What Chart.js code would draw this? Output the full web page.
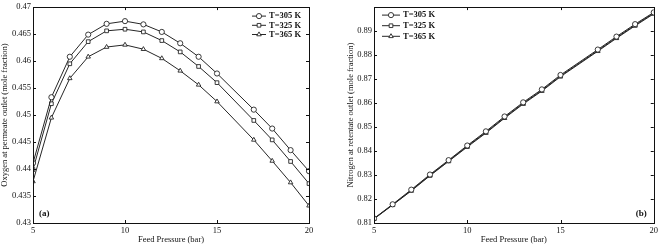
<!DOCTYPE html>
<html>
<head>
<meta charset="utf-8">
<script src="https://cdn.jsdelivr.net/npm/chart.js@4.4.0/dist/chart.umd.min.js"></script>
<style>
  body { margin: 0; background: #fff; }
  .box { position: absolute; top: 0; height: 245px; }
</style>
</head>
<body>
<div class="box" style="left:0;width:322px"><canvas id="chartA"></canvas></div>
<div class="box" style="left:330px;width:331px"><canvas id="chartB"></canvas></div>
<script>
// feed pressure (bar) - no marker at 16 in the figure
var pressure = [5, 6, 7, 8, 9, 10, 11, 12, 13, 14, 15, 17, 18, 19, 20];
var seriesNames = ['T=305 K', 'T=325 K', 'T=365 K'];
var markers = ['circle', 'rect', 'triangle'];

// (a) oxygen at permeate outlet
var o2_305 = [0.4411, 0.4533, 0.4608, 0.4649, 0.4669, 0.4674, 0.4668, 0.4654, 0.4633, 0.4608, 0.4577, 0.4510, 0.4475, 0.4435, 0.4396];
var o2_325 = [0.4399, 0.4521, 0.4595, 0.4636, 0.4656, 0.4659, 0.4654, 0.4638, 0.4617, 0.4590, 0.4560, 0.4490, 0.4454, 0.4414, 0.4373];
var o2_365 = [0.4377, 0.4495, 0.4568, 0.4608, 0.4626, 0.4630, 0.4622, 0.4605, 0.4582, 0.4556, 0.4525, 0.4454, 0.4415, 0.4375, 0.4332];

// (b) nitrogen at retentate outlet
var n2_305 = [0.8119, 0.8178, 0.8239, 0.8302, 0.8362, 0.8423, 0.8482, 0.8544, 0.8603, 0.8657, 0.8717, 0.8823, 0.8877, 0.8929, 0.8978];
var n2_325 = [0.8118, 0.8176, 0.8236, 0.8299, 0.8359, 0.8420, 0.8478, 0.8540, 0.8599, 0.8653, 0.8713, 0.8819, 0.8873, 0.8925, 0.8975];
var n2_365 = [0.8117, 0.8175, 0.8234, 0.8297, 0.8357, 0.8417, 0.8475, 0.8537, 0.8596, 0.8650, 0.8710, 0.8816, 0.8870, 0.8922, 0.8972];

var serif = 'Liberation Serif';

function makeSet(name, vals, style) {
	return {
		label: name,
		data: vals.map(function (v, i) { return { x: pressure[i], y: v }; }),
		borderColor: '#262626',
		borderWidth: 1,
		pointStyle: style,
		pointRadius: 2.6,
		pointBorderWidth: 0.9,
		pointBackgroundColor: '#fff',
		pointBorderColor: '#262626',
		tension: 0
	};
}

// MATLAB style box with inward ticks, legend inside the axes, panel label
var boxPlugin = {
	id: 'box',
	afterDraw: function (chart, args, opts) {
		var ctx = chart.ctx, a = chart.chartArea;
		var xs = chart.scales.x, ys = chart.scales.y;
		ctx.save();
		ctx.strokeStyle = '#111';
		ctx.lineWidth = 1;
		ctx.strokeRect(Math.round(a.left) + 0.5, Math.round(a.top) + 0.5, Math.round(a.right - a.left), Math.round(a.bottom - a.top));
		ctx.beginPath();
		xs.ticks.forEach(function (t) {
			var p = Math.round(xs.getPixelForValue(t.value)) + 0.5;
			ctx.moveTo(p, a.bottom); ctx.lineTo(p, a.bottom - 3);
			ctx.moveTo(p, a.top); ctx.lineTo(p, a.top + 3);
		});
		ys.ticks.forEach(function (t) {
			var p = Math.round(ys.getPixelForValue(t.value)) + 0.5;
			ctx.moveTo(a.left, p); ctx.lineTo(a.left + 3, p);
			ctx.moveTo(a.right, p); ctx.lineTo(a.right - 3, p);
		});
		ctx.stroke();

		// legend
		ctx.font = 'bold 8.5px ' + serif;
		ctx.textBaseline = 'middle';
		var lx = opts.legendRight ? a.right - 57 : a.left + 8;
		chart.data.datasets.forEach(function (ds, i) {
			var y = a.top + opts.rowTop + i * opts.rowGap;
			ctx.strokeStyle = '#262626';
			ctx.lineWidth = 1;
			ctx.beginPath();
			ctx.moveTo(lx, y); ctx.lineTo(lx + opts.lineLen, y);
			ctx.stroke();
			ctx.fillStyle = '#fff';
			ctx.lineWidth = 0.9;
			Chart.helpers.drawPoint(ctx, { pointStyle: ds.pointStyle, radius: 2.6, borderWidth: 0.9, rotation: 0 }, lx + opts.lineLen / 2, y);
			ctx.fillStyle = '#111';
			ctx.fillText(ds.label, lx + opts.lineLen + 3, y);
		});

		// panel label
		ctx.font = 'bold 9px ' + serif;
		ctx.fillStyle = '#111';
		ctx.fillText(opts.tag, opts.tagRight ? a.right - 18 : a.left + 6, a.bottom - 9);
		ctx.restore();
	}
};

function makeChart(id, sets, yTitle, ymin, ymax, ystep, pad, yw, boxOpts) {
	return new Chart(document.getElementById(id), {
		type: 'line',
		data: { datasets: sets },
		options: {
			responsive: true,
			maintainAspectRatio: false,
			animation: false,
			layout: { padding: pad },
			plugins: { legend: { display: false }, tooltip: { enabled: false }, box: boxOpts },
			scales: {
				x: {
					type: 'linear', min: 5, max: 20,
					grid: { display: false, drawTicks: false }, border: { display: false },
					ticks: { stepSize: 5, padding: 3, color: '#111', font: { family: serif, size: 8.5 }, maxRotation: 0 },
					title: { display: true, text: 'Feed Pressure (bar)', color: '#111', padding: 0, font: { family: serif, size: 8.5 } },
					afterFit: function (s) { s.height = 22; }
				},
				y: {
					min: ymin, max: ymax,
					grid: { display: false, drawTicks: false }, border: { display: false },
					ticks: {
						stepSize: ystep, padding: 2, color: '#111', font: { family: serif, size: 8.5 },
						callback: function (v) { return Math.abs(v - ymax) < 1e-9 && boxOpts.hideTop ? '' : +v.toFixed(3); }
					},
					title: { display: true, text: yTitle, color: '#111', padding: 0, font: { family: serif, size: 8.5 } },
					afterFit: function (s) { s.width = yw; }
				}
			}
		},
		plugins: [boxPlugin]
	});
}

makeChart('chartA',
	[makeSet(seriesNames[0], o2_305, markers[0]), makeSet(seriesNames[1], o2_325, markers[1]), makeSet(seriesNames[2], o2_365, markers[2])],
	'Oxygen at permeate outlet (mole fraction)', 0.43, 0.47, 0.005,
	{ left: 0, top: 5, right: 13, bottom: 0 }, 33,
	{ legendRight: true, lineLen: 14, rowTop: 9, rowGap: 9.2, tag: '(a)', tagRight: false, hideTop: false });

makeChart('chartB',
	[makeSet(seriesNames[0], n2_305, markers[0]), makeSet(seriesNames[1], n2_325, markers[1]), makeSet(seriesNames[2], n2_365, markers[2])],
	'Nitrogen at retentate outlet (mole fraction)', 0.81, 0.9, 0.01,
	{ left: 16, top: 3, right: 5, bottom: 0 }, 28,
	{ legendRight: false, lineLen: 18, rowTop: 8, rowGap: 10.6, tag: '(b)', tagRight: true, hideTop: true });
</script>
</body>
</html>
